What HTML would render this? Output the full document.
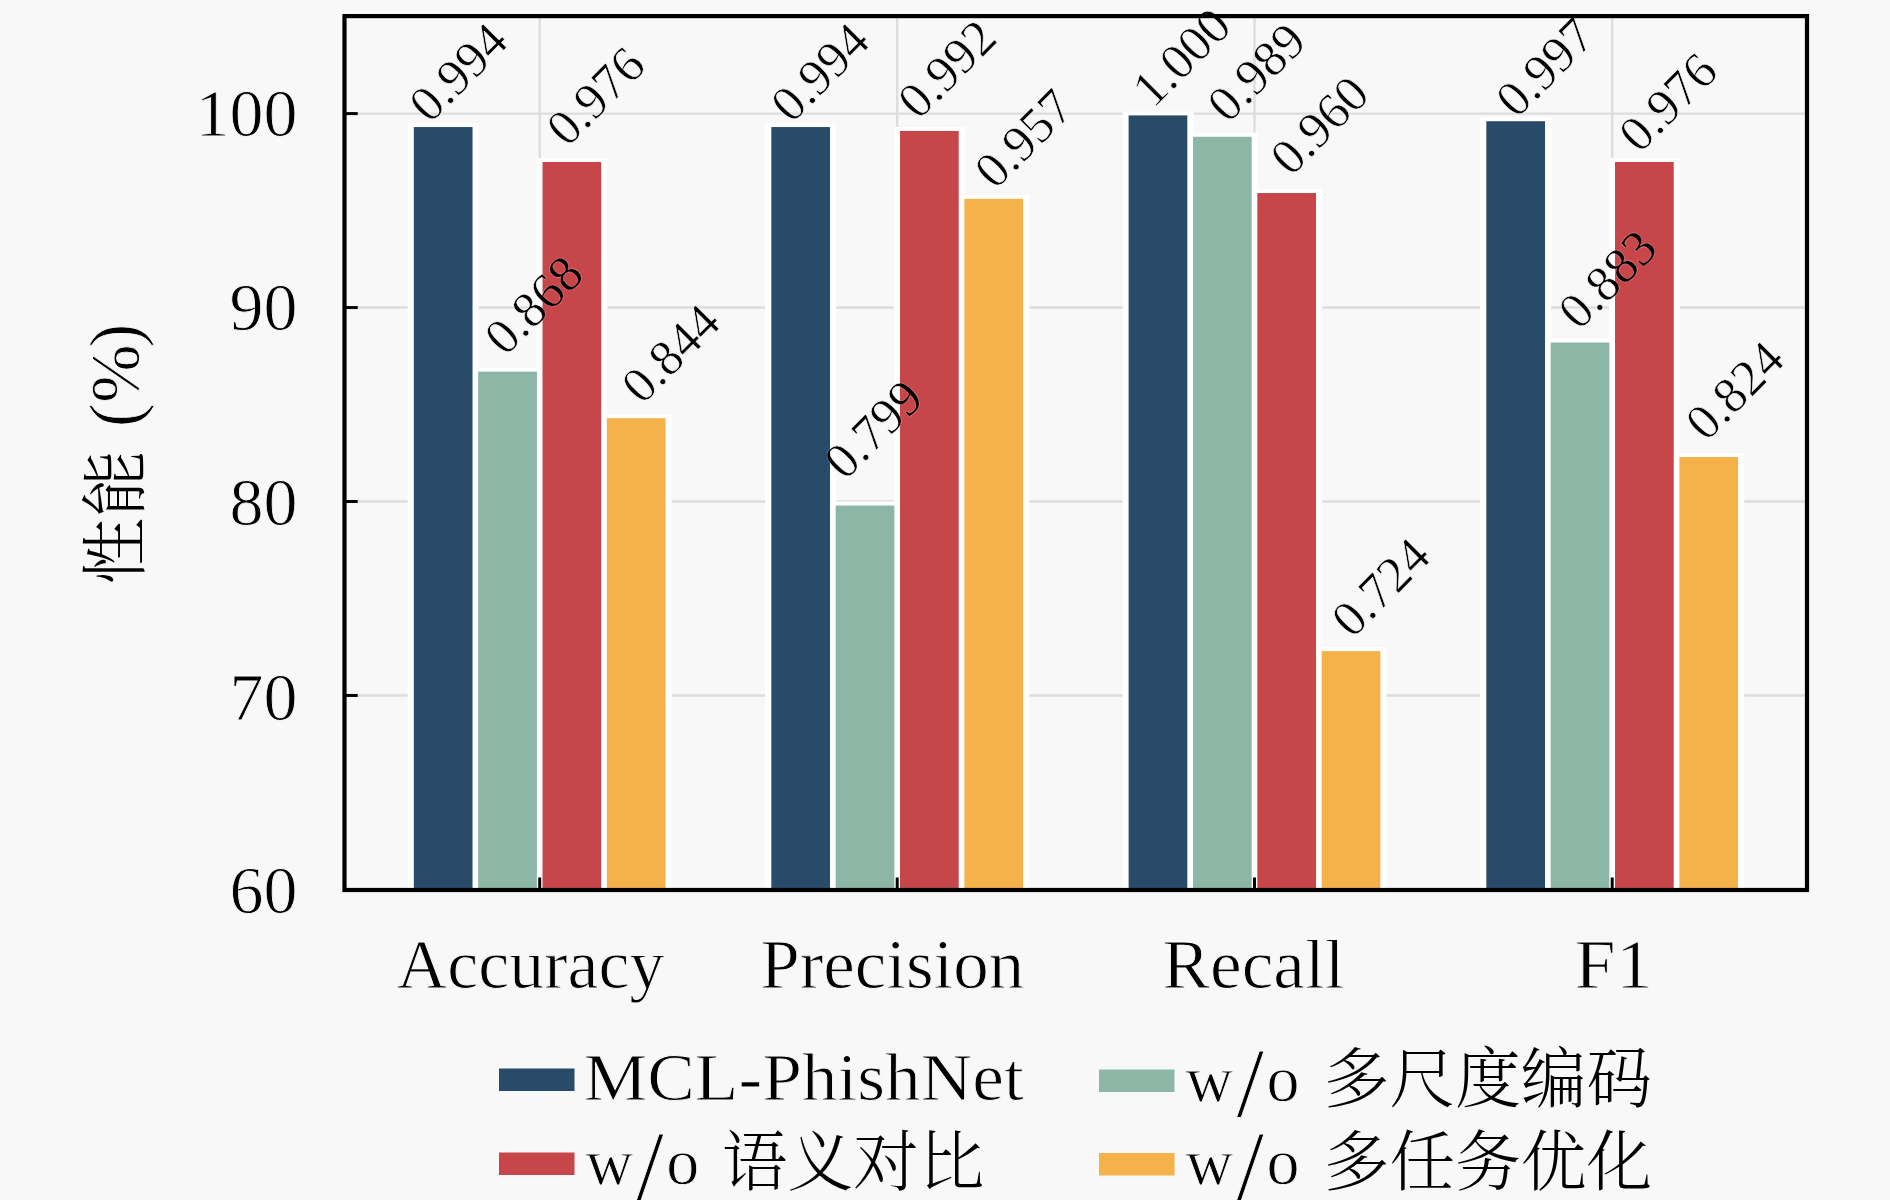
<!DOCTYPE html>
<html><head><meta charset="utf-8"><title>chart</title>
<style>html,body{margin:0;padding:0;background:#f8f8f8;} svg{display:block;}</style>
</head><body>
<svg width="1890" height="1200" viewBox="0 0 1890 1200">
<rect x="0" y="0" width="1890" height="1200" fill="#f8f8f8"/>
<line x1="344.5" y1="113.6" x2="1807.0" y2="113.6" stroke="#dddddd" stroke-width="2.4"/>
<line x1="344.5" y1="307.55" x2="1807.0" y2="307.55" stroke="#dddddd" stroke-width="2.4"/>
<line x1="344.5" y1="501.5" x2="1807.0" y2="501.5" stroke="#dddddd" stroke-width="2.4"/>
<line x1="344.5" y1="695.45" x2="1807.0" y2="695.45" stroke="#dddddd" stroke-width="2.4"/>
<line x1="539.7" y1="16.1" x2="539.7" y2="890.0" stroke="#dddddd" stroke-width="2.4"/>
<line x1="897.2" y1="16.1" x2="897.2" y2="890.0" stroke="#dddddd" stroke-width="2.4"/>
<line x1="1254.5" y1="16.1" x2="1254.5" y2="890.0" stroke="#dddddd" stroke-width="2.4"/>
<line x1="1612.2" y1="16.1" x2="1612.2" y2="890.0" stroke="#dddddd" stroke-width="2.4"/>
<g opacity="1.0">
<rect x="407.68" y="123.05" width="71" height="765.15" fill="#ffffff"/>
<rect x="472.03" y="367.61" width="71" height="520.59" fill="#ffffff"/>
<rect x="536.38" y="157.98" width="71" height="730.22" fill="#ffffff"/>
<rect x="600.73" y="414.2" width="71" height="474" fill="#ffffff"/>
<rect x="765.18" y="123.05" width="71" height="765.15" fill="#ffffff"/>
<rect x="829.53" y="501.54" width="71" height="386.66" fill="#ffffff"/>
<rect x="893.88" y="126.93" width="71" height="761.27" fill="#ffffff"/>
<rect x="958.23" y="194.86" width="71" height="693.34" fill="#ffffff"/>
<rect x="1122.47" y="111.4" width="71" height="776.8" fill="#ffffff"/>
<rect x="1186.83" y="132.75" width="71" height="755.45" fill="#ffffff"/>
<rect x="1251.17" y="189.04" width="71" height="699.16" fill="#ffffff"/>
<rect x="1315.53" y="647.12" width="71" height="241.08" fill="#ffffff"/>
<rect x="1480.17" y="117.22" width="71" height="770.98" fill="#ffffff"/>
<rect x="1544.53" y="338.5" width="71" height="549.7" fill="#ffffff"/>
<rect x="1608.88" y="157.98" width="71" height="730.22" fill="#ffffff"/>
<rect x="1673.23" y="453.02" width="71" height="435.18" fill="#ffffff"/>
<rect x="413.83" y="127.05" width="58.7" height="761.15" fill="#284b69"/>
<rect x="478.18" y="371.61" width="58.7" height="516.59" fill="#8cb6a6"/>
<rect x="542.52" y="161.98" width="58.7" height="726.22" fill="#c64649"/>
<rect x="606.88" y="418.2" width="58.7" height="470" fill="#f5b24b"/>
<rect x="771.33" y="127.05" width="58.7" height="761.15" fill="#284b69"/>
<rect x="835.68" y="505.54" width="58.7" height="382.66" fill="#8cb6a6"/>
<rect x="900.02" y="130.93" width="58.7" height="757.27" fill="#c64649"/>
<rect x="964.38" y="198.86" width="58.7" height="689.34" fill="#f5b24b"/>
<rect x="1128.62" y="115.4" width="58.7" height="772.8" fill="#284b69"/>
<rect x="1192.98" y="136.75" width="58.7" height="751.45" fill="#8cb6a6"/>
<rect x="1257.33" y="193.04" width="58.7" height="695.16" fill="#c64649"/>
<rect x="1321.68" y="651.12" width="58.7" height="237.08" fill="#f5b24b"/>
<rect x="1486.33" y="121.22" width="58.7" height="766.98" fill="#284b69"/>
<rect x="1550.68" y="342.5" width="58.7" height="545.7" fill="#8cb6a6"/>
<rect x="1615.03" y="161.98" width="58.7" height="726.22" fill="#c64649"/>
<rect x="1679.38" y="457.02" width="58.7" height="431.18" fill="#f5b24b"/>
</g>
<text transform="translate(458.35 72) rotate(-45)" x="-57.29" y="16.98" font-family="'Liberation Serif', serif" font-size="50.7" stroke="#f8f8f8" stroke-width="0.6">0.994</text>
<text transform="translate(533.65 304.75) rotate(-45)" x="-57.29" y="16.98" font-family="'Liberation Serif', serif" font-size="50.7" stroke="#f8f8f8" stroke-width="0.6">0.868</text>
<clipPath id="c012"><rect x="542.52" y="161.98" width="58.7" height="726.22"/></clipPath>
<g clip-path="url(#c012)"><text transform="translate(533.65 304.75) rotate(-45)" x="-57.29" y="16.98" font-family="'Liberation Serif', serif" font-size="50.7" stroke="#c64649" stroke-width="0.6">0.868</text></g>
<text transform="translate(595.65 95.85) rotate(-45)" x="-57.29" y="16.98" font-family="'Liberation Serif', serif" font-size="50.7" stroke="#f8f8f8" stroke-width="0.6">0.976</text>
<text transform="translate(670.65 353.15) rotate(-45)" x="-57.29" y="16.98" font-family="'Liberation Serif', serif" font-size="50.7" stroke="#f8f8f8" stroke-width="0.6">0.844</text>
<text transform="translate(819.95 72) rotate(-45)" x="-57.29" y="16.98" font-family="'Liberation Serif', serif" font-size="50.7" stroke="#f8f8f8" stroke-width="0.6">0.994</text>
<text transform="translate(873.5 428.9) rotate(-45)" x="-57.29" y="16.98" font-family="'Liberation Serif', serif" font-size="50.7" stroke="#f8f8f8" stroke-width="0.6">0.799</text>
<clipPath id="c110"><rect x="771.33" y="127.05" width="58.7" height="761.15"/></clipPath>
<g clip-path="url(#c110)"><text transform="translate(873.5 428.9) rotate(-45)" x="-57.29" y="16.98" font-family="'Liberation Serif', serif" font-size="50.7" stroke="#284b69" stroke-width="0.6">0.799</text></g>
<clipPath id="c112"><rect x="900.02" y="130.93" width="58.7" height="757.27"/></clipPath>
<g clip-path="url(#c112)"><text transform="translate(873.5 428.9) rotate(-45)" x="-57.29" y="16.98" font-family="'Liberation Serif', serif" font-size="50.7" stroke="#c64649" stroke-width="0.6">0.799</text></g>
<text transform="translate(947 68.6) rotate(-45)" x="-57.29" y="16.98" font-family="'Liberation Serif', serif" font-size="50.7" stroke="#f8f8f8" stroke-width="0.6">0.992</text>
<text transform="translate(1023.75 138.3) rotate(-45)" x="-57.29" y="16.98" font-family="'Liberation Serif', serif" font-size="50.7" stroke="#f8f8f8" stroke-width="0.6">0.957</text>
<text transform="translate(1181.5 56.85) rotate(-45)" x="-57.29" y="16.98" font-family="'Liberation Serif', serif" font-size="50.7" stroke="#f8f8f8" stroke-width="0.6">1.000</text>
<text transform="translate(1256.5 71.9) rotate(-45)" x="-57.29" y="16.98" font-family="'Liberation Serif', serif" font-size="50.7" stroke="#f8f8f8" stroke-width="0.6">0.989</text>
<text transform="translate(1319.4 124.9) rotate(-45)" x="-57.29" y="16.98" font-family="'Liberation Serif', serif" font-size="50.7" stroke="#f8f8f8" stroke-width="0.6">0.960</text>
<text transform="translate(1380.65 586.95) rotate(-45)" x="-57.29" y="16.98" font-family="'Liberation Serif', serif" font-size="50.7" stroke="#f8f8f8" stroke-width="0.6">0.724</text>
<text transform="translate(1545 67.05) rotate(-45)" x="-57.29" y="16.98" font-family="'Liberation Serif', serif" font-size="50.7" stroke="#f8f8f8" stroke-width="0.6">0.997</text>
<text transform="translate(1607.45 278.9) rotate(-45)" x="-57.29" y="16.98" font-family="'Liberation Serif', serif" font-size="50.7" stroke="#f8f8f8" stroke-width="0.6">0.883</text>
<clipPath id="c312"><rect x="1615.03" y="161.98" width="58.7" height="726.22"/></clipPath>
<g clip-path="url(#c312)"><text transform="translate(1607.45 278.9) rotate(-45)" x="-57.29" y="16.98" font-family="'Liberation Serif', serif" font-size="50.7" stroke="#c64649" stroke-width="0.6">0.883</text></g>
<text transform="translate(1668.05 101.95) rotate(-45)" x="-57.29" y="16.98" font-family="'Liberation Serif', serif" font-size="50.7" stroke="#f8f8f8" stroke-width="0.6">0.976</text>
<text transform="translate(1734.7 390.3) rotate(-45)" x="-57.29" y="16.98" font-family="'Liberation Serif', serif" font-size="50.7" stroke="#f8f8f8" stroke-width="0.6">0.824</text>
<rect x="344.5" y="16.1" width="1462.5" height="873.9" fill="none" stroke="#000" stroke-width="4.2"/>
<line x1="344.5" y1="113.6" x2="357.7" y2="113.6" stroke="#000" stroke-width="3"/>
<line x1="344.5" y1="307.55" x2="357.7" y2="307.55" stroke="#000" stroke-width="3"/>
<line x1="344.5" y1="501.5" x2="357.7" y2="501.5" stroke="#000" stroke-width="3"/>
<line x1="344.5" y1="695.45" x2="357.7" y2="695.45" stroke="#000" stroke-width="3"/>
<line x1="539.7" y1="890.0" x2="539.7" y2="877.5" stroke="#000" stroke-width="3"/>
<line x1="897.2" y1="890.0" x2="897.2" y2="877.5" stroke="#000" stroke-width="3"/>
<line x1="1254.5" y1="890.0" x2="1254.5" y2="877.5" stroke="#000" stroke-width="3"/>
<line x1="1612.2" y1="890.0" x2="1612.2" y2="877.5" stroke="#000" stroke-width="3"/>
<text x="297.6" y="136.2" text-anchor="end" font-family="'Liberation Serif', serif" font-size="68" stroke="#f8f8f8" stroke-width="0.9">100</text>
<text x="297.6" y="330.3" text-anchor="end" font-family="'Liberation Serif', serif" font-size="68" stroke="#f8f8f8" stroke-width="0.9">90</text>
<text x="297.6" y="524.5" text-anchor="end" font-family="'Liberation Serif', serif" font-size="68" stroke="#f8f8f8" stroke-width="0.9">80</text>
<text x="297.6" y="719.9" text-anchor="end" font-family="'Liberation Serif', serif" font-size="68" stroke="#f8f8f8" stroke-width="0.9">70</text>
<text x="297.6" y="913.3" text-anchor="end" font-family="'Liberation Serif', serif" font-size="68" stroke="#f8f8f8" stroke-width="0.9">60</text>
<text x="396.8" y="987.5" textLength="267.5" lengthAdjust="spacingAndGlyphs" font-family="'Liberation Serif', serif" font-size="69" stroke="#f8f8f8" stroke-width="0.9">Accuracy</text>
<text x="760.2" y="987.5" textLength="264" lengthAdjust="spacingAndGlyphs" font-family="'Liberation Serif', serif" font-size="69" stroke="#f8f8f8" stroke-width="0.9">Precision</text>
<text x="1162.6" y="987.5" textLength="182" lengthAdjust="spacingAndGlyphs" font-family="'Liberation Serif', serif" font-size="69" stroke="#f8f8f8" stroke-width="0.9">Recall</text>
<text x="1574.6" y="987.5" textLength="78" lengthAdjust="spacingAndGlyphs" font-family="'Liberation Serif', serif" font-size="69" stroke="#f8f8f8" stroke-width="0.9">F1</text>
<text transform="translate(139 600) rotate(-90)" y="0" stroke="#f8f8f8" stroke-width="0.9"><tspan x="15.3" font-size="67" font-family="'Liberation Serif', 'Noto Serif CJK SC', serif" font-weight="300" stroke="none">性</tspan><tspan x="82.9" font-size="67" font-family="'Liberation Serif', 'Noto Serif CJK SC', serif" font-weight="300" stroke="none">能</tspan><tspan font-size="66" font-family="'Liberation Serif', serif"> </tspan><tspan x="172.8" font-size="72" font-family="'Liberation Serif', serif">(</tspan><tspan x="197.2" font-size="70" font-family="'Liberation Serif', serif">%</tspan><tspan x="252.4" font-size="72" font-family="'Liberation Serif', serif">)</tspan></text>
<rect x="499" y="1068.5" width="75.5" height="22.5" fill="#284b69"/>
<rect x="1099" y="1069.5" width="75.5" height="22.5" fill="#8cb6a6"/>
<rect x="499" y="1152.5" width="75.5" height="22.5" fill="#c64649"/>
<rect x="1099" y="1153" width="75.5" height="22.5" fill="#f5b24b"/>
<text x="583.8" y="1100" textLength="440" lengthAdjust="spacingAndGlyphs" font-family="'Liberation Serif', serif" font-size="67.5" stroke="#f8f8f8" stroke-width="0.9">MCL-PhishNet</text>
<text font-family="'Liberation Serif', serif" font-size="66" stroke="#f8f8f8" stroke-width="0.9"><tspan x="1185.6" y="1100.5">w</tspan><tspan x="1236.5" y="1116.3" font-size="99">/</tspan><tspan x="1266.4" y="1100.5">o</tspan><tspan x="1295.6" y="1100.5"> </tspan><tspan x="1323.8" y="1102.2" font-family="'Liberation Serif', 'Noto Serif CJK SC', serif" font-weight="300" stroke="none" font-size="65.7">多尺度编码</tspan></text>
<text font-family="'Liberation Serif', serif" font-size="66" stroke="#f8f8f8" stroke-width="0.9"><tspan x="585.4" y="1183.5">w</tspan><tspan x="636.3" y="1199.3" font-size="99">/</tspan><tspan x="666.2" y="1183.5">o</tspan><tspan x="695.4" y="1183.5"> </tspan><tspan x="721.8" y="1184.6" font-family="'Liberation Serif', 'Noto Serif CJK SC', serif" font-weight="300" stroke="none" font-size="65.7">语义对比</tspan></text>
<text font-family="'Liberation Serif', serif" font-size="66" stroke="#f8f8f8" stroke-width="0.9"><tspan x="1185.6" y="1183.5">w</tspan><tspan x="1236.5" y="1199.3" font-size="99">/</tspan><tspan x="1266.4" y="1183.5">o</tspan><tspan x="1295.6" y="1183.5"> </tspan><tspan x="1323.8" y="1184.6" font-family="'Liberation Serif', 'Noto Serif CJK SC', serif" font-weight="300" stroke="none" font-size="65.7">多任务优化</tspan></text>
</svg>
</body></html>
